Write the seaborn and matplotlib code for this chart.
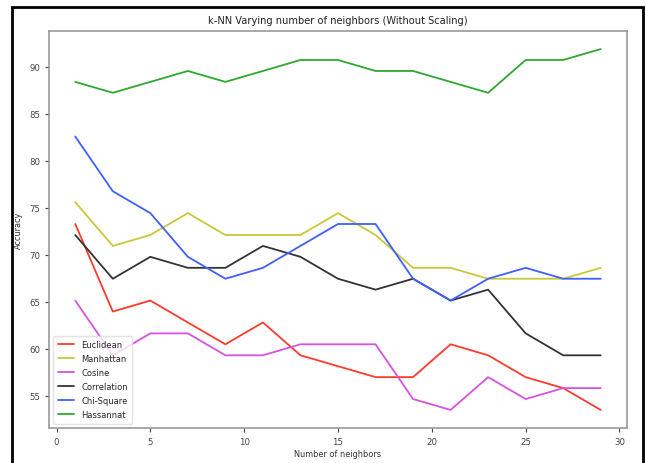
import pandas as pd
import matplotlib
matplotlib.use("Agg")
import matplotlib.pyplot as plt
import seaborn as sns

# Datos (k impares de 1 a 29)
k_values = [1, 3, 5, 7, 9, 11, 13, 15, 17, 19, 21, 23, 25, 27, 29]
euclidean = [73.26, 63.95, 65.12, 62.79, 60.47, 62.79, 59.30, 58.14, 56.98, 56.98, 60.47, 59.30, 56.98, 55.81, 53.49]
manhattan = [75.58, 70.93, 72.09, 74.42, 72.09, 72.09, 72.09, 74.42, 72.09, 68.60, 68.60, 67.44, 67.44, 67.44, 68.60]
cosine = [65.12, 59.30, 61.63, 61.63, 59.30, 59.30, 60.47, 60.47, 60.47, 54.65, 53.49, 56.98, 54.65, 55.81, 55.81]
correlation = [72.09, 67.44, 69.77, 68.60, 68.60, 70.93, 69.77, 67.44, 66.28, 67.44, 65.12, 66.28, 61.63, 59.30, 59.30]
chi_square = [82.56, 76.74, 74.42, 69.77, 67.44, 68.60, 70.93, 73.26, 73.26, 67.44, 65.12, 67.44, 68.60, 67.44, 67.44]
hassannat = [88.37, 87.21, 88.37, 89.53, 88.37, 89.53, 90.70, 90.70, 89.53, 89.53, 88.37, 87.21, 90.70, 90.70, 91.86]

series_names = ["Euclidean", "Manhattan", "Cosine", "Correlation", "Chi-Square", "Hassannat"]
series_values = [euclidean, manhattan, cosine, correlation, chi_square, hassannat]
colors = ["#ff3b2b", "#c8c83a", "#d652e0", "#333333", "#3f5fff", "#2fa82f"]

# Pasar a formato largo para seaborn
rows = []
for name, vals in zip(series_names, series_values):
    for k, v in zip(k_values, vals):
        rows.append({"k": k, "Accuracy": v, "Distance": name})
df = pd.DataFrame(rows)

sns.set_style("white")
plt.rcParams['font.family'] = ['DejaVu Sans']

fig = plt.figure(figsize=(6.46, 4.64), dpi=100)
ax = fig.add_axes([49 / 646, 1 - 429 / 464, (627 - 49) / 646, (429 - 32) / 464])

sns.lineplot(data=df, x="k", y="Accuracy", hue="Distance", hue_order=series_names,
             palette=colors, linewidth=1.3, ax=ax)

# márgenes por defecto de matplotlib (5 %)
ax.set_xlim(-0.4, 30.4)
ax.set_ylim(51.57, 93.78)
ax.set_xticks([0, 5, 10, 15, 20, 25, 30])
ax.set_yticks([55, 60, 65, 70, 75, 80, 85, 90])
ax.set_xlabel("Number of neighbors", fontsize=5.9, color="#333333", labelpad=2)
ax.set_ylabel("Accuracy", fontsize=5.9, color="#333333", labelpad=4)
ax.set_title("k-NN Varying number of neighbors (Without Scaling)", fontsize=7.1, color="#222222", pad=6)
ax.tick_params(axis="both", which="major", labelsize=6.2, colors="#444444",
               direction="out", length=3, width=0.8, bottom=True, left=True)
for sp in ax.spines.values():
    sp.set_color("#999999")
    sp.set_linewidth(1.2)

leg = ax.legend(loc="lower left", fontsize=6.0, frameon=True, handlelength=2.0,
                borderpad=0.55, labelspacing=0.6)
leg.get_frame().set_edgecolor("#dddddd")

# Marco negro alrededor de la figura
fig.patches.append(plt.Rectangle((12 / 646, -0.02), (643 - 12) / 646, 1 - 8 / 464 + 0.02,
                                 transform=fig.transFigure, fill=False,
                                 edgecolor="black", linewidth=2))

fig.savefig("out.png", dpi=100)
